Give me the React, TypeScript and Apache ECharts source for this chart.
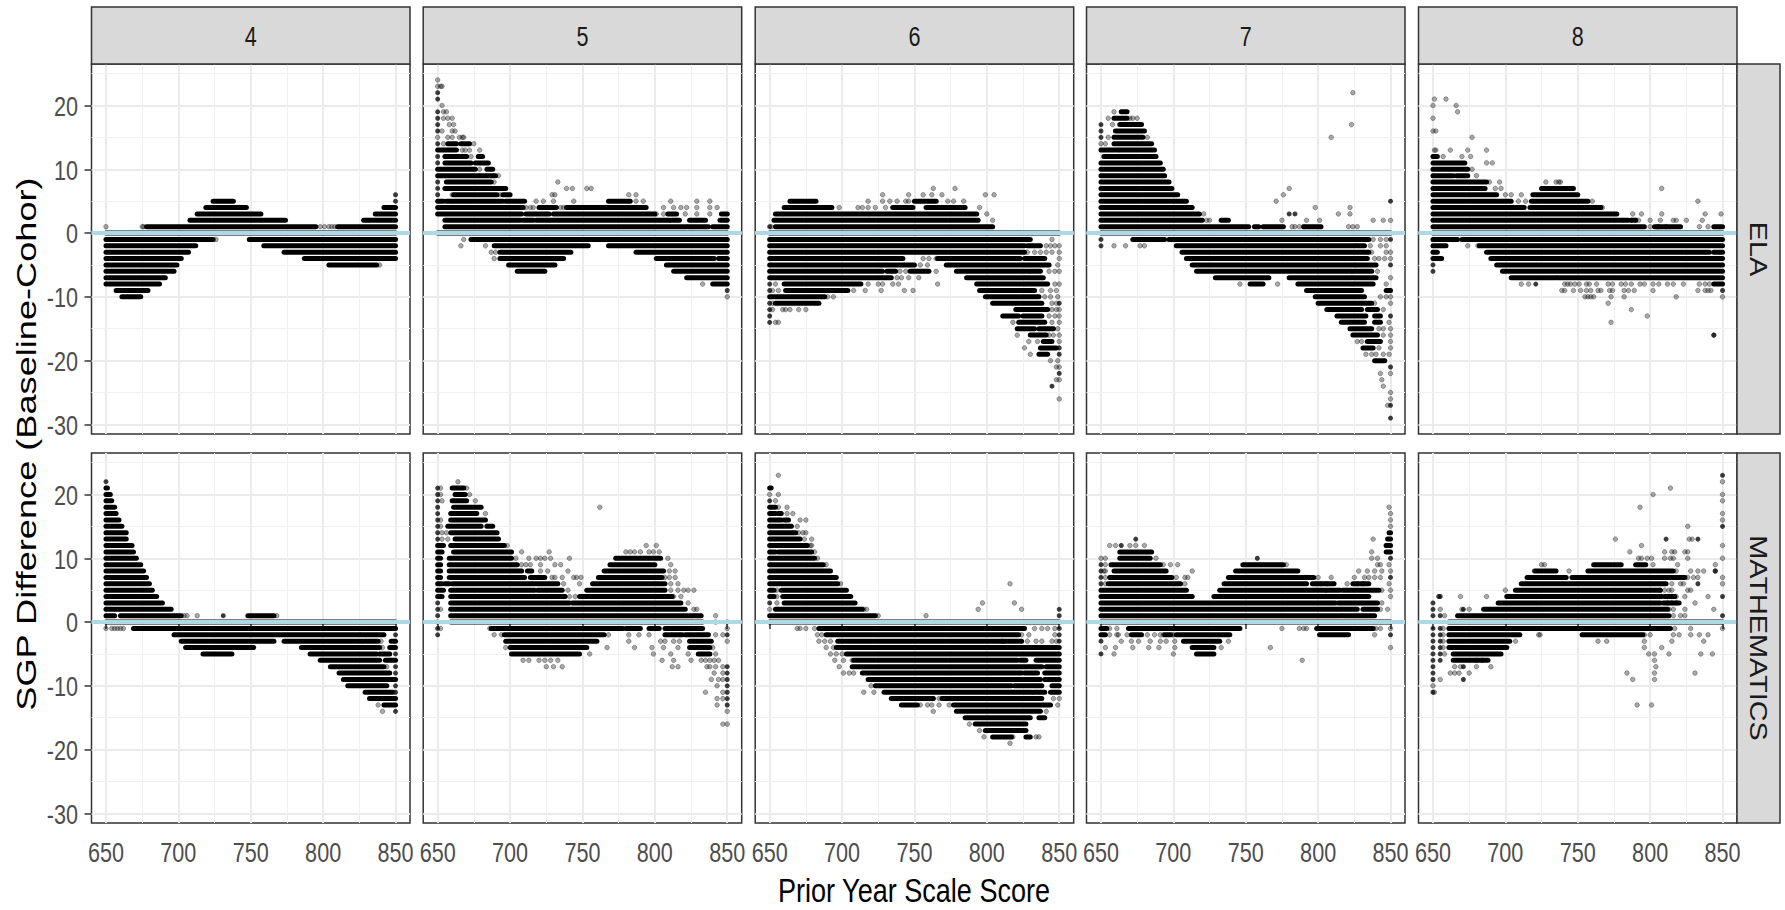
import React, { useEffect, useRef } from "react";
import * as echarts from "echarts";

const gradeLabels = ["4", "5", "6", "7", "8"];
const subjectLabels = ["ELA", "MATHEMATICS"];
const xTicks = [650, 700, 750, 800, 850];
const xMinor = [675, 725, 775, 825];
const yTicks = [-30, -20, -10, 0, 10, 20];
const yMinor = [-25, -15, -5, 5, 15, 25];

// Runs: [difference, first score, last score] for solid stretches of overlapping points.
// Dots: [difference, score, score, ...] for separately visible points.
// Solid: the same form as dots, for single points overplotted until they look black.
const ela4Runs = [[5,724,738],[4,719,747],[4,842,850],[3,713,757],[3,836,850],[2,708,774],[2,828,850],[1,678,795],[1,810,850],[0,650,850],[-1,650,724],[-1,749,850],[-2,650,712],[-2,759,850],[-3,650,707],[-3,773,850],[-4,650,702],[-4,787,850],[-5,650,699],[-5,804,837],[-6,650,697],[-7,650,691],[-8,650,687],[-9,657,679],[-10,661,674]];
const ela4Dots = [[1,650,675,676,798,801,804,806,808],[-1,726],[-5,839]];
const ela4Solid = [[5,850],[6,850]];

const ela5Runs = [[14,657,663],[14,666,672],[13,650,663],[12,655,670],[12,678,681],[11,655,673],[11,676,685],[10,650,676],[10,684,688],[9,650,690],[8,656,687],[7,655,684],[7,685,697],[6,661,691],[6,695,700],[5,650,654],[5,656,660],[5,661,695],[5,697,710],[5,768,783],[4,650,709],[4,720,732],[4,739,794],[3,650,708],[3,711,727],[3,730,800],[3,809,815],[3,846,850],[2,655,707],[2,709,716],[2,718,810],[2,811,817],[2,824,835],[2,845,850],[1,655,822],[1,823,837],[1,840,850],[0,650,850],[-1,673,850],[-2,689,754],[-2,768,850],[-3,693,742],[-3,787,850],[-4,693,737],[-4,801,841],[-4,844,850],[-5,699,731],[-5,808,850],[-6,705,724],[-6,813,850],[-7,822,850],[-8,840,850]];
const ela5Dots = [[24,650],[23,650,652,653],[20,653],[19,654,656],[18,654,657,660],[17,658,661],[16,653,660,662],[15,650,657,660,665,667,668],[14,654,675],[13,667,669,672,679],[12,673],[10,679],[9,692],[8,689,733],[7,739,743,753,756],[6,660,693,729,731,782,787],[5,718,723,730,744,787,792,811,829,838],[4,711,714,716,735,737,806,813,818,822,829,838,843],[3,801,806,821,829,838],[-1,668],[-2,666,683],[-3,687,690],[-4,689],[-8,833],[-10,850]];
const ela5Solid = [[22,650],[21,650],[19,650],[18,650],[17,650],[16,650],[14,650],[12,650],[11,650],[8,650],[7,650],[6,650],[-9,850]];

const ela6Runs = [[5,664,682],[5,750,765],[4,660,693],[4,735,749],[4,758,785],[3,654,659],[3,660,718],[3,719,793],[2,653,794],[1,654,804],[0,650,850],[-1,650,822],[-1,823,830],[-2,650,826],[-2,828,837],[-3,650,826],[-4,650,742],[-4,766,823],[-4,826,840],[-5,650,730],[-5,731,750],[-5,772,829],[-5,830,843],[-6,650,728],[-6,731,737],[-6,747,760],[-6,779,829],[-6,830,837],[-7,650,734],[-7,786,826],[-7,827,839],[-8,660,713],[-8,793,826],[-8,827,842],[-9,661,704],[-9,795,833],[-10,650,688],[-10,799,836],[-11,654,684],[-11,804,838],[-12,820,840],[-12,838,842],[-13,811,822],[-13,825,838],[-14,822,840],[-15,821,833],[-15,836,846],[-16,830,841],[-17,839,845],[-18,837,848],[-19,836,842]];
const ela6Dots = [[7,763,778],[6,728,746,756,762,769,799,805],[5,718,728,733,738,744,746,773,777,784],[4,698,711,714,718,723,730,795],[3,800],[2,804],[1,651],[-1,845],[-2,841,844,847,850],[-3,828,833,837,841,845,850],[-4,756,760,765,850],[-5,754,759,849],[-6,740,744,765,843,847,850],[-7,738,741,746,753],[-8,654,718,725,728,735,739,766,847,850],[-9,652,656,708,716,727,743,749,838,844,848],[-10,690,694,840,844,849],[-11,652,845,848],[-12,652,659,661,664,670,675,845,848,850],[-13,843,847,850],[-14,654,656,818,845,850],[-15,849],[-16,821,843,846,850],[-17,829,835,850],[-18,826],[-19,830],[-20,844,849],[-21,848,850],[-23,848,850],[-26,850]];
const ela6Solid = [[1,650],[-8,650],[-9,650],[-11,650,850],[-12,650],[-13,650],[-14,650],[-18,850],[-19,850],[-22,850],[-24,845]];

const ela7Runs = [[19,664,668],[18,659,668],[17,663,678],[16,660,680],[15,659,679],[14,659,685],[13,650,662],[13,663,687],[12,652,688],[11,650,691],[10,650,693],[9,650,694],[8,650,697],[7,650,699],[6,650,703],[5,650,709],[4,650,713],[3,650,718],[2,650,720],[2,733,738],[1,650,752],[1,756,759],[1,762,776],[1,790,802],[0,650,850],[-1,672,694],[-1,697,821],[-1,821,835],[-2,702,826],[-2,827,832],[-3,706,835],[-4,709,820],[-4,821,834],[-5,713,825],[-5,826,840],[-6,716,823],[-6,824,837],[-7,729,766],[-7,780,823],[-7,824,840],[-8,753,762],[-8,786,823],[-8,824,838],[-9,792,830],[-9,847,850],[-10,798,832],[-11,800,837],[-12,806,830],[-12,834,841],[-13,813,833],[-13,839,843],[-14,816,832],[-14,839,843],[-15,822,837],[-16,824,841],[-17,834,843],[-18,831,838],[-20,839,846]];
const ela7Dots = [[22,824],[19,659],[18,655,670,672,675],[17,658,823],[15,655,682,809],[14,650,653],[7,780],[6,776],[5,771],[4,798,822],[3,721,814,822],[2,723,725,775,792,801,838,845,850],[1,782,784,787,790,821,824,827],[-1,838,843,847],[-2,659,667,677,680,836,843,847],[-3,837,847,850],[-4,839,842,846,850],[-6,841],[-7,850],[-8,746,772,847],[-10,843,847,850],[-11,839,850],[-12,845],[-14,849],[-15,842,845,850],[-16,845,850],[-17,827,830,850],[-18,842,850],[-19,833,837,840,845,849],[-22,843,850],[-23,844],[-24,845],[-25,850],[-26,850],[-27,848]];
const ela7Solid = [[17,650],[16,650],[15,650],[5,850],[3,780,784],[-1,650,850],[-2,650],[-5,850],[-13,850],[-21,850],[-27,850],[-29,850]];

const ela8Runs = [[12,650,653],[11,650,672],[10,650,674],[9,650,664],[9,666,674],[8,650,687],[7,650,686],[7,725,747],[6,650,694],[6,719,750],[5,650,704],[5,718,757],[4,650,696],[4,697,713],[4,717,766],[3,650,777],[2,650,785],[2,787,790],[1,650,796],[1,803,821],[1,844,850],[0,650,850],[-1,650,667],[-1,670,850],[-2,650,659],[-2,682,850],[-3,650,653],[-3,687,841],[-3,844,850],[-4,650,656],[-4,690,850],[-5,694,850],[-6,698,850],[-7,704,735],[-7,736,850],[-8,844,850]];
const ela8Dots = [[21,651,659],[20,650,666],[19,667],[18,650],[16,650,652],[15,677],[13,651,652,662,674,687],[12,657,670,676],[11,687,691],[10,677],[9,680],[8,689,696,728,735,737,738],[7,693,697,808],[6,700,704,711],[5,709,714,760,833],[4,767],[3,788,794,808,838,849],[2,787,790,792,800,807,816,818,825,836],[1,800,805,806,811,834,840],[-2,674,681],[-8,711,716,741,743,745,748,751,756,758,763,771,774,780,783,787,793,796,802,806,812,816,823,834,838,841],[-9,739,741,747,752,756,759,764,766,772,774,782,785,789,802,833,838,840,842],[-10,755,757,759,761,773,782,818,850],[-11,771],[-12,787],[-13,798],[-14,773],[-16,844]];
const ela8Solid = [[-5,650],[-6,650],[-8,721],[-9,850],[-16,844]];

const math4Runs = [[21,650,651],[20,650,653],[19,650,654],[18,650,656],[17,650,657],[16,650,659],[15,650,661],[14,650,664],[13,650,664],[12,650,668],[11,650,669],[10,650,671],[9,650,674],[8,650,676],[7,650,678],[6,650,680],[5,650,682],[4,650,685],[3,650,689],[2,650,695],[1,650,656],[1,660,702],[1,748,766],[0,650,850],[-1,669,825],[-1,826,850],[-2,697,825],[-2,826,842],[-3,702,766],[-3,773,827],[-3,828,838],[-3,847,850],[-4,705,752],[-4,785,839],[-4,846,850],[-5,717,737],[-5,791,837],[-5,839,846],[-6,798,839],[-6,843,850],[-7,805,842],[-8,811,846],[-9,814,850],[-10,817,844],[-11,829,848],[-12,832,850],[-13,842,850]];
const math4Dots = [[1,704,706,713,768],[-1,650,654,656,658,660,662],[-3,840],[-4,841],[-7,844],[-13,838],[-14,841]];
const math4Solid = [[22,650],[1,731],[-2,850],[-5,850],[-7,850],[-8,850],[-10,850],[-11,850],[-14,850]];

const math5Runs = [[21,660,668],[20,662,669],[19,660,670],[18,661,680],[17,659,677],[16,659,683],[15,657,680],[15,684,688],[14,659,691],[13,662,692],[12,650,654],[12,659,696],[11,650,653],[11,661,701],[10,650,652],[10,658,701],[10,773,804],[9,650,652],[9,658,705],[9,769,800],[8,650,652],[8,658,708],[8,712,715],[8,765,806],[7,650,652],[7,658,710],[7,714,724],[7,761,805],[6,650,653],[6,655,658],[6,660,715],[6,716,733],[6,757,807],[5,650,654],[5,659,717],[5,719,736],[5,753,807],[4,650,653],[4,659,738],[4,748,812],[3,659,741],[3,743,818],[2,659,821],[1,659,827],[1,828,832],[0,659,833],[-1,687,778],[-1,780,790],[-1,796,803],[-1,807,827],[-1,828,833],[-2,696,765],[-2,807,819],[-2,821,830],[-2,831,837],[-3,697,760],[-3,824,839],[-4,700,753],[-4,824,838],[-5,701,748],[-5,830,838]];
const math5Dots = [[22,664],[21,652,670],[20,652,672],[19,653,676],[18,762],[17,683],[16,652],[15,652],[14,653,656],[13,653,657],[12,698,794,801],[11,708,727,780,783,786,790,796,799,803],[10,704,713,718,721,724,728,741,809],[9,708,711,714,721,731,735,811],[8,721,726,740,810,814],[7,729,731,736,744,746,749,807,810,814],[6,737,748,811,816],[5,740,811,816,820,823,827],[4,741,745,813,818],[3,823],[2,652,827,829],[1,842],[0,650,842,850],[-1,652,686,850],[-2,689,694,768,782,789,796,842,847],[-3,782,804,807,813,817,850],[-4,697,767,786,798,806,816,840],[-5,755,799,811,823,842],[-6,709,713,720,724,728,733,805,813,825,832,835,838,841,844],[-7,725,730,736,812,816,836,838,842,847],[-8,841,847],[-9,839,844,847],[-10,843],[-11,835,847],[-12,843,847],[-13,843],[-14,850],[-16,847,850]];
const math5Solid = [[21,650],[20,650],[19,650],[18,650],[17,650],[16,650],[15,650],[14,650],[13,650],[3,650],[2,650],[1,650],[-1,650],[-2,650,850],[-7,850],[-8,850],[-9,850],[-10,850],[-11,850],[-12,850],[-13,850]];

const math6Runs = [[21,650,651],[18,650,654],[17,650,654],[17,656,658],[16,650,658],[16,660,663],[15,650,665],[14,650,668],[13,650,653],[13,654,671],[12,650,676],[11,650,654],[11,656,679],[10,650,681],[9,650,687],[8,650,692],[7,650,696],[6,650,657],[6,658,697],[5,650,653],[5,658,703],[4,650,653],[4,659,706],[3,660,709],[2,654,714],[1,650,723],[0,650,850],[-1,684,813],[-1,814,826],[-2,689,822],[-3,697,811],[-3,812,824],[-4,696,824],[-4,825,850],[-5,703,831],[-5,832,850],[-6,708,821],[-6,823,827],[-6,834,850],[-7,707,829],[-7,830,838],[-7,841,850],[-8,714,802],[-8,803,824],[-8,826,835],[-8,840,850],[-9,718,831],[-9,832,837],[-9,840,850],[-10,723,817],[-10,819,838],[-10,845,850],[-11,729,831],[-11,832,840],[-11,844,850],[-12,734,763],[-12,769,838],[-13,741,752],[-13,777,844],[-14,779,837],[-15,785,830],[-15,836,840],[-16,792,827],[-17,799,827],[-18,804,817],[-18,827,830]];
const math6Dots = [[23,656],[20,650,656],[19,654],[18,656,662],[17,662,666],[16,671,675],[15,669],[14,670,673,675],[13,674,679],[12,678,679],[11,681],[10,683],[9,689],[6,699,816],[5,655],[4,655],[3,655,797,819],[2,650,715,717,794,824],[1,725,758],[-1,669,671,675,681,833,838,842,847],[-2,683,686,824,829,847],[-3,684,688,692,811,828,834,838,845,848],[-4,689,694],[-5,692,696,700],[-6,695,701,707],[-7,698],[-8,701,705,708],[-10,720],[-11,715,722],[-12,763,767,776,846,850],[-13,754,759,762,767,774,849],[-14,763,841],[-16,788],[-17,795],[-18,798,818,834,836],[-19,816]];
const math6Solid = [[19,650],[3,650],[2,850],[1,850],[-1,850],[-2,850],[-3,850]];

const math7Runs = [[14,849,850],[13,848,850],[12,847,850],[11,663,685],[11,847,850],[10,663,684],[9,657,691],[9,748,776],[8,659,695],[8,743,786],[7,656,699],[7,738,791],[7,792,797],[6,655,705],[6,735,792],[6,796,811],[6,824,835],[5,650,709],[5,732,805],[5,806,815],[5,817,842],[4,650,713],[4,728,825],[4,826,835],[3,650,812],[3,814,830],[3,831,841],[2,650,827],[2,831,841],[1,650,816],[1,817,839],[0,650,850],[-1,650,654],[-1,669,746],[-1,799,823],[-1,824,838],[-2,650,653],[-2,671,678],[-2,694,698],[-2,702,739],[-2,801,821],[-3,707,732],[-4,713,728],[-5,716,728]];
const math7Dots = [[18,849],[17,850],[16,850],[15,850],[13,838],[12,656,660,670,674,680,847],[11,837],[10,650,653,688,837,841],[9,653,693,698,703,778,841,843,849],[8,653,652,713,828,834,839,844,850],[7,653,702,708,710,792,800,809,825,832,835,839,843],[6,653,708,799,802,806,820,827,831,849],[5,844,850],[4,850],[3,844],[2,843,848],[-1,656,661,775,787,790,792,840,843,850],[-2,656,661,662,668,682,687,691,693,699,700,839],[-3,664,671,676,684,691,695,701,738],[-4,653,660,672,683,690,701,733,767,850],[-5,659,700],[-6,789]];
const math7Solid = [[13,674],[12,664],[10,758,850],[9,650],[8,650],[7,650,850],[6,650],[-2,850],[-3,650],[-5,650]];

const math8Runs = [[9,761,780],[9,790,797],[8,721,735],[8,757,788],[8,789,816],[7,715,742],[7,746,809],[7,810,824],[6,711,811],[5,707,807],[4,701,808],[4,810,817],[3,695,807],[3,809,820],[2,685,812],[1,667,813],[0,661,850],[-1,661,814],[-2,661,710],[-2,753,795],[-3,661,703],[-4,661,701],[-5,664,697],[-6,664,688]];
const math8Dots = [[22,850],[21,814],[20,802,850],[19,850],[18,793],[17,850],[16,850],[15,826],[13,776,827,829],[12,794,850],[11,786,810,815,817,824,826],[10,792,794,798,801,810,814,816,826,850],[9,725,727,802,819,845],[8,744,818,828,833,837,845],[7,826,830,833,850],[6,815,821,823,850],[5,700,807,810,813,815,826,828],[4,669,687,812,815,818,824,840],[3,812,815,818,831],[2,655,670,675,813,816,824,844],[1,658,816,821,824],[-1,657,817,828,850],[-2,657,723,724,796,800,816,820,828,834,840],[-3,657,707,764,770,796,815,837],[-4,657,796,808],[-5,658,799,803,813,835,843],[-6,680,684,803],[-7,665,669,680,690,804],[-8,662,665,668,675,784,803,831],[-9,655,788,803],[-10,650],[-11,651],[-13,791,801]];
const math8Solid = [[23,850],[15,850],[13,811,833],[8,720,845],[6,833],[4,654,655,850],[3,650],[2,650,671],[1,650,655,850],[-1,650,655],[-2,650,655],[-3,650,655],[-4,650,655],[-5,650,655],[-6,650,655],[-7,650,671],[-8,650],[-9,650,671],[-11,650]];

const panelRuns = [ela4Runs, ela5Runs, ela6Runs, ela7Runs, ela8Runs, math4Runs, math5Runs, math6Runs, math7Runs, math8Runs];
const panelDots = [ela4Dots, ela5Dots, ela6Dots, ela7Dots, ela8Dots, math4Dots, math5Dots, math6Dots, math7Dots, math8Dots];
const panelSolid = [ela4Solid, ela5Solid, ela6Solid, ela7Solid, ela8Solid, math4Solid, math5Solid, math6Solid, math7Solid, math8Solid];

const LEFTS = [91.5, 423.2, 755.2, 1086.5, 1418.5];
const PANEL_W = 318.5;
const TOPS = [64, 453];
const PANEL_H = 370;
const WIDE = "'Liberation Sans', sans-serif";

const expand = (rows: number[][]) => rows.flatMap((r) => r.slice(1).map((x) => [x, r[0]]));

function buildOption() {
  const grid: any[] = [], xAxis: any[] = [], yAxis: any[] = [], series: any[] = [];

  panelRuns.forEach((runs, i) => {
    const col = i % 5;
    const row = Math.floor(i / 5);
    grid.push({
      left: LEFTS[col], top: TOPS[row], width: PANEL_W, height: PANEL_H, show: true,
      borderColor: "#333333", borderWidth: 1.5, backgroundColor: "#ffffff", containLabel: false,
    });
    const showX = row === 1, showY = col === 0;
    xAxis.push({
      gridIndex: i, type: "value", min: 640, max: 860,
      axisLine: { show: false },
      axisTick: { show: showX, length: 7, customValues: xTicks, lineStyle: { color: "#333333", width: 1.5 } },
      axisLabel: { show: false, customValues: xTicks },
      splitLine: { show: true, lineStyle: { color: "#ebebeb", width: 2 } },
    });
    yAxis.push({
      gridIndex: i, type: "value", min: -31.5, max: 26.5,
      axisLine: { show: false },
      axisTick: { show: showY, length: 7, customValues: yTicks, lineStyle: { color: "#333333", width: 1.5 } },
      axisLabel: { show: false, customValues: yTicks },
      splitLine: { show: true, lineStyle: { color: "#ebebeb", width: 2 } },
    });
    series.push({
      type: "scatter", xAxisIndex: i, yAxisIndex: i, data: [], silent: true, z: 1,
      markLine: {
        silent: true, symbol: "none", z: 1, label: { show: false },
        lineStyle: { color: "#f0f0f0", width: 1, type: "solid" },
        data: [...xMinor.map((v) => ({ xAxis: v })), ...yMinor.map((v) => ({ yAxis: v }))],
      },
    });
    series.push({
      type: "custom", xAxisIndex: i, yAxisIndex: i, silent: true, z: 3, clip: true,
      encode: { x: [1, 2], y: 0 },
      data: runs,
      renderItem: (_p: any, api: any) => {
        const a = api.coord([api.value(1), api.value(0)]);
        const b = api.coord([api.value(2), api.value(0)]);
        return {
          type: "line",
          shape: { x1: a[0], y1: a[1], x2: b[0], y2: b[1] },
          style: { stroke: "#000000", lineWidth: 5, lineCap: "round", fill: null },
        };
      },
    });
    series.push({
      type: "scatter", xAxisIndex: i, yAxisIndex: i, silent: true, z: 4, symbolSize: 4.6,
      itemStyle: { color: "rgba(0,0,0,0.42)", borderColor: "rgba(0,0,0,0.55)", borderWidth: 0.7 },
      data: expand(panelDots[i]),
    });
    series.push({
      type: "scatter", xAxisIndex: i, yAxisIndex: i, silent: true, z: 4, symbolSize: 5,
      itemStyle: { color: "#0a0a0a" },
      data: expand(panelSolid[i]),
    });
    series.push({
      type: "scatter", xAxisIndex: i, yAxisIndex: i, data: [], silent: true, z: 5,
      markLine: {
        silent: true, symbol: "none", z: 5, label: { show: false },
        lineStyle: { color: "#add8e6", width: 3.8, type: "solid" },
        data: [{ yAxis: 0 }],
      },
    });
  });

  return { animation: false, backgroundColor: "#ffffff", grid, xAxis, yAxis, series };
}

// Strips, titles and tick labels. Tick labels are squeezed text, placed through the axes' own scales.
function buildGraphic(chart: any) {
  const graphic: any[] = [];
  const tickFont = `27px ${WIDE}`;
  gradeLabels.forEach((g, col) => {
    graphic.push({
      type: "rect", z: 10, shape: { x: LEFTS[col], y: 7, width: PANEL_W, height: 57 },
      style: { fill: "#d9d9d9", stroke: "#333333", lineWidth: 1.5 },
    });
    graphic.push({
      type: "text", z: 11, x: LEFTS[col] + PANEL_W / 2, y: 37, scaleX: 0.8,
      style: { text: g, font: tickFont, fill: "#1a1a1a", align: "center", verticalAlign: "middle" },
    });
  });
  subjectLabels.forEach((s, row) => {
    graphic.push({
      type: "rect", z: 10, shape: { x: 1737, y: TOPS[row], width: 43, height: PANEL_H },
      style: { fill: "#d9d9d9", stroke: "#333333", lineWidth: 1.5 },
    });
    graphic.push({
      type: "text", z: 11, x: 1758, y: TOPS[row] + PANEL_H / 2, rotation: -Math.PI / 2, scaleX: 1.2,
      style: { text: s, font: `24px ${WIDE}`, fill: "#1a1a1a", align: "center", verticalAlign: "middle" },
    });
  });
  [5, 6, 7, 8, 9].forEach((i) => {
    xTicks.forEach((v) => {
      graphic.push({
        type: "text", z: 11, x: chart.convertToPixel({ xAxisIndex: i }, v), y: 853, scaleX: 0.8,
        style: { text: String(v), font: tickFont, fill: "#4d4d4d", align: "center", verticalAlign: "middle" },
      });
    });
  });
  [0, 5].forEach((i) => {
    yTicks.forEach((v) => {
      graphic.push({
        type: "text", z: 11, x: 78, y: chart.convertToPixel({ yAxisIndex: i }, v) + 1, scaleX: 0.8,
        style: { text: String(v), font: tickFont, fill: "#4d4d4d", align: "right", verticalAlign: "middle" },
      });
    });
  });
  graphic.push({
    type: "text", z: 11, x: 27, y: 444, rotation: Math.PI / 2, scaleX: 1.34,
    style: { text: "SGP Difference (Baseline-Cohor)", font: `27px ${WIDE}`, fill: "#000000", align: "center", verticalAlign: "middle" },
  });
  graphic.push({
    type: "text", z: 11, x: 914, y: 891, scaleX: 0.82,
    style: { text: "Prior Year Scale Score", font: `33px ${WIDE}`, fill: "#000000", align: "center", verticalAlign: "middle" },
  });
  return graphic;
}

export default function App() {
  const ref = useRef<HTMLDivElement>(null);
  useEffect(() => {
    const chart = echarts.init(ref.current!, undefined, { renderer: "svg" });
    chart.setOption(buildOption());
    chart.setOption({ graphic: buildGraphic(chart) });
    return () => chart.dispose();
  }, []);
  return <div ref={ref} style={{ position: "absolute", left: 0, top: 0, width: 1785, height: 910 }} />;
}
